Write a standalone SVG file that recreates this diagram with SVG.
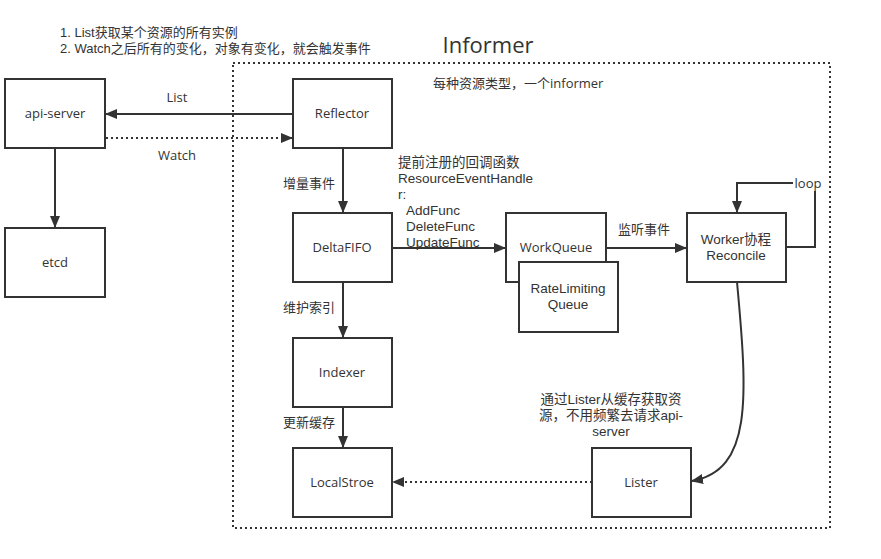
<svg xmlns="http://www.w3.org/2000/svg" width="881" height="559" viewBox="0 0 881 559">
<defs>
<style>
text{font-family:"Open Sans","Noto Sans CJK SC",sans-serif;font-size:13px;fill:#333}
text.ml{font-family:"Liberation Sans","Noto Sans CJK SC",sans-serif;font-size:13.5px}
text.note{font-family:"Liberation Sans","Noto Sans CJK SC",sans-serif;font-size:13px}
.node rect{fill:#fff;stroke:#333;stroke-width:2}
.lbl{text-anchor:middle}
.ln{fill:none;stroke:#333;stroke-width:2}
.dot{fill:none;stroke:#333;stroke-width:2;stroke-dasharray:2 3}
</style>
<marker id="ah" viewBox="0 0 12 10" refX="11" refY="5" markerWidth="12" markerHeight="10" markerUnits="userSpaceOnUse" orient="auto">
<path d="M0,0 L12,5 L0,10 Z" fill="#333"/>
</marker>
</defs>
<rect width="881" height="559" fill="#fff"/>
<text x="60" y="37" class="note">1. List获取某个资源的所有实例</text>
<text x="60" y="53" class="note">2. Watch之后所有的变化，对象有变化，就会触发事件</text>
<rect id="informer" x="233" y="63" width="597" height="465" fill="none" stroke="#333" stroke-width="2" stroke-dasharray="2 3"/>
<text x="488" y="53" class="lbl" style="font-size:22px">Informer</text>
<text x="433" y="88">每种资源类型，一个informer</text>

<g id="connectors">
<line class="ln" x1="293" y1="114" x2="106" y2="114" marker-end="url(#ah)"/>
<line class="dot" x1="106" y1="138" x2="292" y2="138" marker-end="url(#ah)"/>
<line class="ln" x1="55" y1="148" x2="55" y2="227" marker-end="url(#ah)"/>
<line class="ln" x1="343" y1="148" x2="343" y2="212" marker-end="url(#ah)"/>
<line class="ln" x1="392" y1="248" x2="505" y2="248" marker-end="url(#ah)"/>
<line class="ln" x1="606" y1="248" x2="686" y2="248" marker-end="url(#ah)"/>
<polyline class="ln" points="786,247 815,247 815,183 737,183 737,212" marker-end="url(#ah)"/>
<line class="ln" x1="343" y1="282" x2="343" y2="337" marker-end="url(#ah)"/>
<line class="ln" x1="343" y1="407" x2="343" y2="447" marker-end="url(#ah)"/>
<path class="ln" d="M737,282 C748,400 752,470 692,481" marker-end="url(#ah)"/>
<line class="dot" x1="592" y1="482" x2="393" y2="482" marker-end="url(#ah)"/>
<rect x="793" y="175" width="30" height="16" fill="#fff"/>
<text x="808" y="188" class="lbl">loop</text>
<text x="177" y="102" class="lbl">List</text>
<text x="177" y="160" class="lbl">Watch</text>
<text x="283" y="188">增量事件</text>
<text x="283" y="312">维护索引</text>
<text x="283" y="427">更新缓存</text>
<text x="618" y="234">监听事件</text>
<text x="398" y="167" class="ml">提前注册的回调函数</text>
<text x="398" y="183" class="ml">ResourceEventHandle</text>
<text x="398" y="199" class="ml">r:</text>
<text x="406" y="215" class="ml">AddFunc</text>
<text x="406" y="231" class="ml">DeleteFunc</text>
<text x="406" y="247" class="ml">UpdateFunc</text>
<text x="611" y="404" class="lbl ml">通过Lister从缓存获取资</text>
<text x="611" y="420" class="lbl ml">源，不用频繁去请求api-</text>
<text x="611" y="436" class="lbl ml">server</text>
</g>

<g id="api-server" class="node"><rect x="5" y="79" width="100" height="69"/><text x="55" y="118" class="lbl">api-server</text></g>
<g id="etcd" class="node"><rect x="5" y="228" width="100" height="69"/><text x="55" y="267" class="lbl">etcd</text></g>
<g id="reflector" class="node"><rect x="293" y="79" width="99" height="69"/><text x="342" y="118" class="lbl">Reflector</text></g>
<g id="deltafifo" class="node"><rect x="293" y="213" width="99" height="69"/><text x="342" y="252" class="lbl">DeltaFIFO</text></g>
<g id="indexer" class="node"><rect x="293" y="338" width="99" height="69"/><text x="342" y="377" class="lbl">Indexer</text></g>
<g id="localstroe" class="node"><rect x="293" y="448" width="99" height="69"/><text x="342" y="487" class="lbl">LocalStroe</text></g>
<g id="workqueue" class="node"><rect x="506" y="213" width="100" height="69"/><text x="556" y="252" class="lbl">WorkQueue</text></g>
<g id="ratelimiting" class="node"><rect x="519" y="262" width="99" height="70"/><text x="568" y="293" class="lbl ml">RateLimiting</text><text x="568" y="309" class="lbl ml">Queue</text></g>
<g id="worker" class="node"><rect x="687" y="213" width="99" height="69"/><text x="736" y="244" class="lbl ml">Worker协程</text><text x="736" y="260" class="lbl ml">Reconcile</text></g>
<g id="lister" class="node"><rect x="592" y="448" width="99" height="69"/><text x="641" y="487" class="lbl">Lister</text></g>
</svg>
